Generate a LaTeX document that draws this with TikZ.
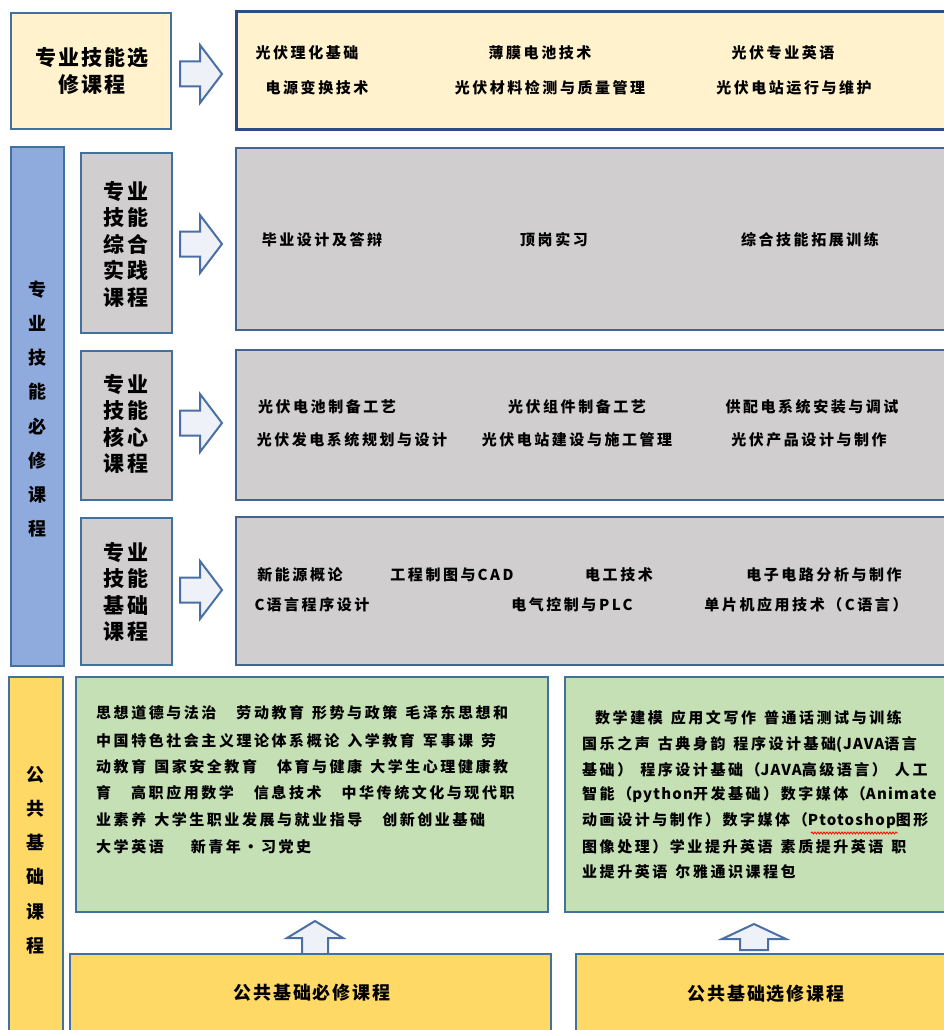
\documentclass[tikz,border=0pt]{standalone}
\usepackage{fontspec}
\newfontfamily\zhA{Noto Sans CJK SC}[LetterSpace=17]
\newfontfamily\zhB{Noto Sans CJK SC}[LetterSpace=10]
\newfontfamily\zhL{Noto Sans CJK SC}[LetterSpace=8]
\usetikzlibrary{decorations.pathmorphing}
\definecolor{ylight}{HTML}{FFF2CC}
\definecolor{yfull}{HTML}{FFD966}
\definecolor{bluebar}{HTML}{8FAADC}
\definecolor{grayf}{HTML}{D0CECE}
\definecolor{greenf}{HTML}{C5E0B4}
\definecolor{bordc}{HTML}{41719C}
\definecolor{bordd}{HTML}{2F4B85}
\definecolor{bordg}{HTML}{44638F}
\definecolor{arrowc}{HTML}{4A6FA5}
\definecolor{arrowf}{HTML}{EEF1F8}
\newcommand\gapa{\hspace{8pt}}
\newcommand\gapb{\hspace{20pt}}
\newcommand\lat[1]{{\zhL\bfseries #1}}
\newcommand\rarr[1]{\draw[barrow] (180,{#1-12.5}) -- (200,{#1-12.5}) -- (200,{#1-29}) -- (222,#1) -- (200,{#1+29}) -- (200,{#1+12.5}) -- (180,{#1+12.5}) -- cycle;}
\tikzset{
  box/.style={draw=bordc, line width=2pt, anchor=north west, inner sep=0pt, outer sep=0pt},
  bigbox/.style={box, draw=bordg, line width=2.5pt},
  item/.style={font=\zhA\bfseries\fontsize{15}{15}\selectfont, inner sep=0pt, text=black},
  gline/.style={item, anchor=west},
  ttl/.style={font=\zhB\bfseries\fontsize{21}{26.5}\selectfont, align=center, inner sep=0pt},
  vttl/.style={font=\zhB\bfseries\fontsize{18}{34.2}\selectfont, align=center, inner sep=0pt},
  bttl/.style={font=\zhB\bfseries\fontsize{18}{18}\selectfont, inner sep=0pt},
  barrow/.style={draw=arrowc, fill=arrowf, line width=2pt, line join=miter},
}
\begin{document}
\begin{tikzpicture}[x=1pt,y=-1pt]
\useasboundingbox (0,0) rectangle (944,1030);
\fill[white] (0,0) rectangle (944,1030);

% ---------- elective professional ----------
\node[box, fill=ylight, minimum width=160pt, minimum height=116pt] (sel) at (11,13) {};
\node[box, fill=ylight, draw=bordd, line width=3pt, minimum width=730pt, minimum height=118pt] (selc) at (236,12) {};
\node[ttl] (selt) at (92,71) {专业技能选\\修课程};
\rarr{74}
\node[item] (s1) at (307,53) {光伏理化基础};
\node[item] (s2) at (540,53) {薄膜电池技术};
\node[item] (s3) at (783,53) {光伏专业英语};
\node[item] (s4) at (317,88) {电源变换技术};
\node[item] (s5) at (550,88) {光伏材料检测与质量管理};
\node[item] (s6) at (794,88) {光伏电站运行与维护};

% ---------- required professional ----------
\node[box, fill=bluebar, minimum width=53pt, minimum height=519pt] (req) at (11,147) {};
\node[vttl] (reqt) at (37,409) {专\\业\\技\\能\\必\\修\\课\\程};

\node[box, fill=grayf, minimum width=91pt, minimum height=180pt] (prac) at (81,153) {};
\node[bigbox, fill=grayf, minimum width=730pt, minimum height=182pt] (pracc) at (236,148) {};
\node[ttl] (pract) at (126,244) {专业\\技能\\综合\\实践\\课程};
\rarr{244}
\node[item] (p1) at (322,240) {毕业设计及答辩};
\node[item] (p2) at (554,240) {顶岗实习};
\node[item] (p3) at (810,240) {综合技能拓展训练};

\node[box, fill=grayf, minimum width=91pt, minimum height=149pt] (core) at (81,351) {};
\node[bigbox, fill=grayf, minimum width=730pt, minimum height=150pt] (corec) at (236,350) {};
\node[ttl] (coret) at (126,424) {专业\\技能\\核心\\课程};
\rarr{423}
\node[item] (c1) at (327,407) {光伏电池制备工艺};
\node[item] (c2) at (577,407) {光伏组件制备工艺};
\node[item] (c3) at (812,407) {供配电系统安装与调试};
\node[item] (c4) at (352,440) {光伏发电系统规划与设计};
\node[item] (c5) at (577,440) {光伏电站建设与施工管理};
\node[item] (c6) at (809,440) {光伏产品设计与制作};

\node[box, fill=grayf, minimum width=91pt, minimum height=147pt] (base) at (81,518) {};
\node[bigbox, fill=grayf, minimum width=730pt, minimum height=148pt] (basec) at (236,517) {};
\node[ttl] (baset) at (126,592) {专业\\技能\\基础\\课程};
\rarr{590}
\node[item] (b1) at (300,575) {新能源概论};
\node[item] (b2) at (452,575) {工程制图与\hspace{2pt}CAD};
\node[item] (b3) at (619,575) {电工技术};
\node[item] (b4) at (824,575) {电子电路分析与制作};
\node[item] (b5) at (312,605) {C\hspace{2pt}语言程序设计};
\node[item] (b6) at (572,605) {电气控制与PLC};
\node[item] (b7) at (806,605) {单片机应用技术（C语言）};

% ---------- public courses ----------
\node[box, fill=yfull, minimum width=54pt, minimum height=370pt] (pub) at (9,677) {};
\node[vttl] (pubt) at (36,860) {公\\共\\基\\础\\课\\程};

\node[box, fill=greenf, minimum width=472pt, minimum height=235pt] (g1) at (76,677) {};
\node[box, fill=greenf, minimum width=400pt, minimum height=235pt] (g2) at (565,677) {};

\node[gline] (g1l1) at (96,713) {思想道德与法治\gapb 劳动教育\gapa 形势与政策\gapa 毛泽东思想和};
\node[gline] (g1l2) at (96,741) {中国特色社会主义理论体系概论\gapa 入学教育\gapa 军事课\gapa 劳};
\node[gline] (g1l3) at (96,767) {动教育\gapa 国家安全教育\gapb 体育与健康\gapa 大学生心理健康教};
\node[gline] (g1l4) at (96,793) {育\gapb 高职应用数学\gapb 信息技术\gapb 中华传统文化与现代职};
\node[gline] (g1l5) at (96,820) {业素养\gapa 大学生职业发展与就业指导\gapb 创新创业基础};
\node[gline] (g1l6) at (96,847) {大学英语\hspace{27pt}新青年・习党史};

\node[gline] (g2l1) at (595,718) {数学建模\gapa 应用文写作\gapa 普通话测试与训练};
\node[gline] (g2l2) at (582,744) {国乐之声\gapa 古典身韵\gapa 程序设计基础\lat{(JAVA}语言};
\node[gline] (g2l3) at (582,770) {基础）\gapa 程序设计基础（\lat{JAVA}高级语言）\gapa 人工};
\node[gline] (g2l4) at (582,795) {智能（\lat{python}开发基础）数字媒体（\lat{Animate}};
\node[gline] (g2l5) at (582,821) {动画设计与制作）数字媒体（\lat{Ptotoshop}图形};
\node[gline] (g2l6) at (582,847) {图像处理）学业提升英语\gapa 素质提升英语\gapa 职};
\node[gline] (g2l7) at (582,872) {业提升英语\gapa 尔雅通识课程包};
\coordinate (wv1) at (811,833);
\coordinate (wv2) at (898,833);
\draw[red, line width=0.8pt, decorate, decoration={snake, amplitude=1pt, segment length=3pt}] (wv1) -- (wv2);

% up arrows
\draw[barrow] (302,954) -- (302,938) -- (287,938) -- (315,921) -- (343,938) -- (328,938) -- (328,954) -- cycle;
\draw[barrow] (740,950) -- (740,939) -- (722,939) -- (754,924) -- (786,939) -- (768,939) -- (768,950) -- cycle;

\node[box, fill=yfull, minimum width=481pt, minimum height=100pt] (bot1) at (70,954) {};
\node[box, fill=yfull, minimum width=390pt, minimum height=100pt] (bot2) at (576,954) {};
\node[bttl] (bot1t) at (312,993) {公共基础必修课程};
\node[bttl] (bot2t) at (766,994) {公共基础选修课程};
\end{tikzpicture}
\end{document}
